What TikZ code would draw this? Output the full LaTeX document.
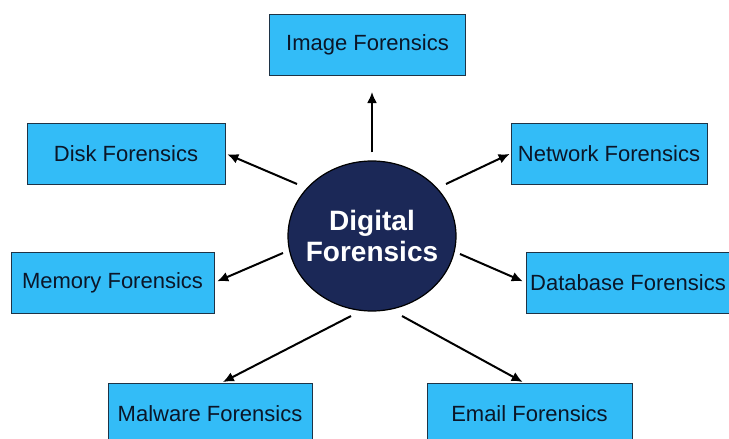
\documentclass[tikz,border=0pt]{standalone}
\usepackage{fontspec}
\setmainfont{Liberation Sans}
\usetikzlibrary{positioning}
\usetikzlibrary{calc}
\usetikzlibrary{arrows.meta}
\usetikzlibrary{shapes.geometric}
\definecolor{boxblue}{HTML}{33BCF7}
\definecolor{navy}{HTML}{1B2857}
\definecolor{boxline}{HTML}{1E3346}
\definecolor{boxtext}{HTML}{0B1628}
\tikzset{
  fbox/.style={draw=boxline, line width=1pt, fill=boxblue, minimum height=61pt,
    inner sep=0pt, text=boxtext, font=\fontsize{22}{26}\selectfont},
  hub/.style={ellipse, draw=black, line width=1.2pt, fill=navy, text=white,
    minimum width=168pt, minimum height=150pt, align=center, inner sep=-8pt,
    font=\fontsize{28}{31}\selectfont\bfseries},
  arr/.style={-{Latex[length=11pt,width=10pt]}, line width=2pt, black}
}
\begin{document}
\begin{tikzpicture}[x=1pt,y=-1pt]
			\useasboundingbox (0,0) rectangle (729,439);
			%\draw[step=50,gray,very thin] (0,0) grid (729,439);
			\node[hub] (dfc) at (372,236) {Digital\\Forensics};
			\node[fbox, minimum width=196pt] (img) at (367.5,45) {Image Forensics};
			\node[fbox, minimum width=198pt] (disk) at (126,153.5) {Disk Forensics};
			\node[fbox, minimum width=196pt] (net) at (609,153.5) {Network Forensics};
			\node[fbox, minimum width=203pt] (mem) at (112.5,282.5) {Memory Forensics};
			\node[fbox, minimum width=204pt] (db) at (628,282.5) {Database Forensics};
			\node[fbox, minimum width=204pt] (mal) at (210,413.5) {Malware Forensics};
			\node[fbox, minimum width=205pt] (email) at (529.5,413.5) {Email Forensics};
			\coordinate (t-disk) at (297,184);
			\coordinate (t-net) at (446,184);
			\coordinate (t-mem) at (283,253);
			\coordinate (t-db) at (460,254);
			\coordinate (t-mal) at (351,316);
			\coordinate (t-email) at (402,316);
			\draw[arr, shorten <=8pt, shorten >=16pt] (dfc.north) -- (dfc.north |- img.south);
			\draw[arr, shorten >=2pt] (t-disk) -- (disk.east);
			\draw[arr, shorten >=1pt] (t-net) -- (net.west);
			\draw[arr, shorten >=3pt] (t-mem) -- (mem.east);
			\draw[arr, shorten >=3pt] (t-db) -- (db.west);
			\draw[arr, shorten >=1pt] (t-mal) -- ([xshift=12pt]mal.north);
			\draw[arr, shorten >=1pt] (t-email) -- ([xshift=-6pt]email.north);
		\end{tikzpicture}
\end{document}
